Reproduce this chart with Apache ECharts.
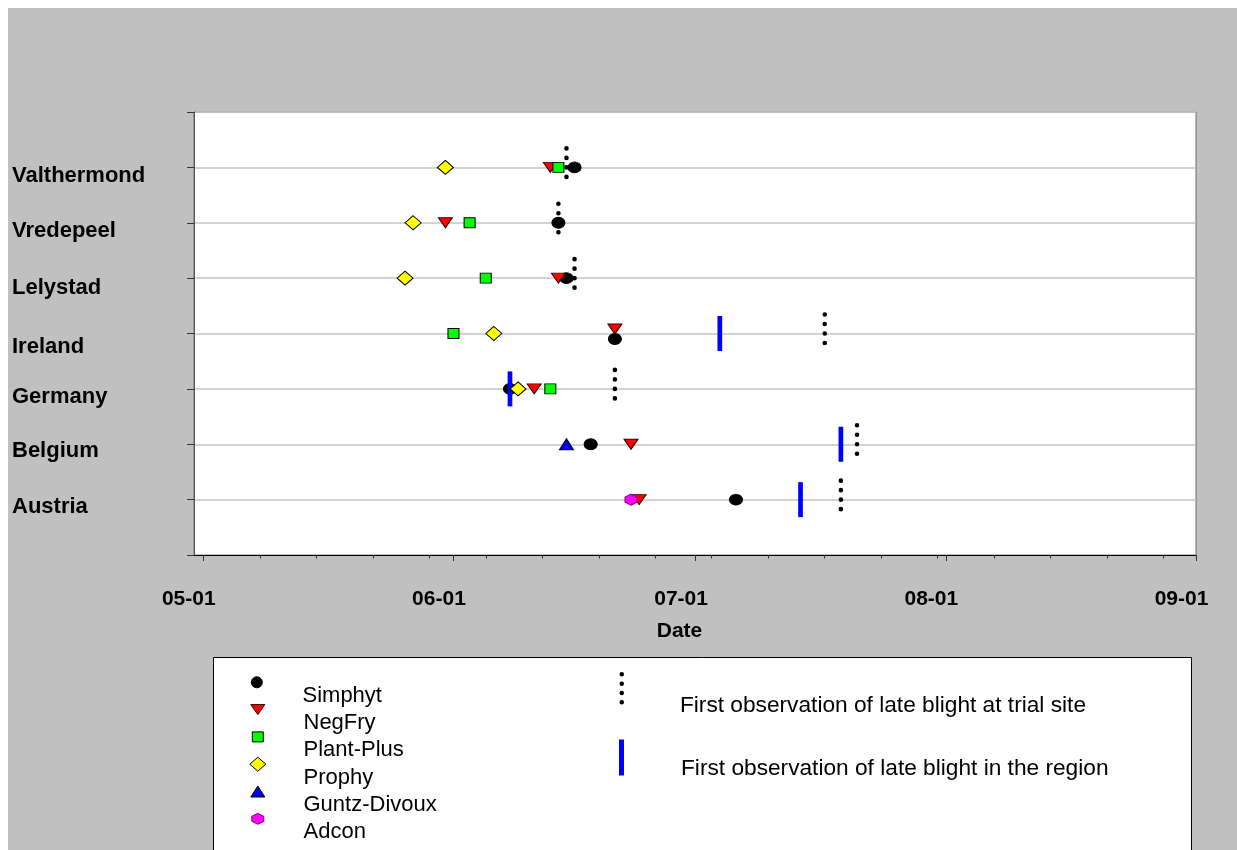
<!DOCTYPE html>
<html>
<head>
<meta charset="utf-8">
<title>First spray advice vs. first late blight observation</title>
<script src="https://cdn.jsdelivr.net/npm/echarts@6.0.0/dist/echarts.min.js"></script>
<style>
  html, body { margin: 0; padding: 0; background: #fff; }
  #chart { width: 1237px; height: 850px; }
</style>
</head>
<body>
<div id="chart"></div>
<script>
// sites, bottom (y = 1) to top (y = 7)
const sites = ['Austria', 'Belgium', 'Germany', 'Ireland', 'Lelystad', 'Vredepeel', 'Valthermond'];

// first spray advice per system (MM-DD), one entry per site, null = not tested there
const simphyt     = ['07-06', '06-18', '06-08', '06-21', '06-15', '06-14', '06-16'];
const negFry      = ['06-24', '06-23', '06-11', '06-21', '06-14', '05-31', '06-13'];
const plantPlus   = [null,    null,    '06-13', '06-01', '06-05', '06-03', '06-14'];
const prophy      = [null,    null,    '06-09', '06-06', '05-26', '05-27', '05-31'];
const guntzDivoux = [null,    '06-15', null,    null,    null,    null,    null];
const adcon       = ['06-23', null,    null,    null,    null,    null,    null];

// first observation of late blight
const trialSite = ['07-19', '07-21', '06-21', '07-17', '06-16', '06-14', '06-15'];
const region    = ['07-14', '07-19', '06-08', '07-04', null,    null,    null];

// x axis ticks, days after 05-01
const monthTicks = [0, 31, 61, 92, 123];
const weekTicks = [7, 14, 21, 28, 35, 42, 49, 56, 63, 70, 77, 84, 91, 98, 105, 112, 119];

const DAY0 = Date.UTC(2003, 4, 1);
function toDay(md) {
	const p = md.split('-');
	return (Date.UTC(2003, +p[0] - 1, +p[1]) - DAY0) / 864e5;
}
function dayLabel(v) {
	const d = new Date(DAY0 + Math.round(v) * 864e5);
	return String(d.getUTCMonth() + 1).padStart(2, '0') + '-' + String(d.getUTCDate()).padStart(2, '0');
}

const FONT = 'Liberation Sans, Arial, sans-serif';
const TRI_DOWN = 'path://M0,0 L14,0 L7,10 Z';
const HEX = 'path://M6,0 L12,3 L12,8 L6,11 L0,8 L0,3 Z';
const DOTS = 'path://M0,2.3a2.3,2.3 0 1,0 4.6,0a2.3,2.3 0 1,0 -4.6,0M0,11.8a2.3,2.3 0 1,0 4.6,0a2.3,2.3 0 1,0 -4.6,0' +
	'M0,21.3a2.3,2.3 0 1,0 4.6,0a2.3,2.3 0 1,0 -4.6,0M0,30.8a2.3,2.3 0 1,0 4.6,0a2.3,2.3 0 1,0 -4.6,0';

// coincident marks in Ireland are pushed apart a little (px)
const nudge = { 'Simphyt': { 3: 5.5 }, 'NegFry': { 3: -4.5 } };
// y label drop below its grid line (px), Austria..Valthermond
const labelDrop = [7.5, 6.5, 8.5, 13, 9.5, 7.7, 8.3];

const methods = [
	{ name: 'Simphyt', dates: simphyt, symbol: 'circle', size: [13, 11], color: '#000000', border: '#000000' },
	{ name: 'NegFry', dates: negFry, symbol: TRI_DOWN, size: [14, 10], color: '#ff0000', border: '#300000' },
	{ name: 'Plant-Plus', dates: plantPlus, symbol: 'rect', size: [11, 10], color: '#00ff00', border: '#000000' },
	{ name: 'Prophy', dates: prophy, symbol: 'diamond', size: [16, 14], color: '#ffff00', border: '#000000' },
	{ name: 'Guntz-Divoux', dates: guntzDivoux, symbol: 'triangle', size: [14, 11], color: '#0000ff', border: '#000000' },
	{ name: 'Adcon', dates: adcon, symbol: HEX, size: [12, 11], color: '#ff00ff', border: '#800080' }
];
const trialName = 'First observation of late blight at trial site';
const regionName = 'First observation of late blight in the region';

function points(dates, off) {
	const out = [];
	dates.forEach((md, i) => {
		if (!md) return;
		const item = { value: [toDay(md), i + 1] };
		if (off && off[i]) item.symbolOffset = [0, off[i]];
		out.push(item);
	});
	return out;
}

function methodSeries(m) {
	return {
		name: m.name,
		type: 'scatter',
		symbol: m.symbol,
		symbolSize: m.size,
		itemStyle: { color: m.color, borderColor: m.border, borderWidth: 1, opacity: 1 },
		emphasis: { disabled: true },
		data: points(m.dates, nudge[m.name])
	};
}

const series = [
	{
		name: trialName, type: 'scatter', symbol: DOTS, symbolSize: [4.6, 33.1], symbolOffset: [0, -4.75],
		itemStyle: { color: '#000', opacity: 1 }, emphasis: { disabled: true }, data: points(trialSite)
	},
	methodSeries(methods[0]),
	{
		name: regionName, type: 'scatter', symbol: 'rect', symbolSize: [4.7, 35],
		itemStyle: { color: '#0000ff', opacity: 1 }, emphasis: { disabled: true }, data: points(region)
	}
];
methods.slice(1).forEach(m => series.push(methodSeries(m)));

// legend: one component per entry, text sits below its marker like the original
const legends = [];
methods.forEach((m, i) => {
	const cy = 682.3 + 27.3 * i;
	const L = 26.6;
	legends.push({
		data: [{ name: m.name, icon: m.symbol, itemStyle: { color: m.color, borderColor: m.border, borderWidth: 1, opacity: 1 } }],
		left: 257.3 - m.size[0] / 2,
		top: cy - Math.max(m.size[1] / 2, L),
		padding: 0,
		itemWidth: m.size[0],
		itemHeight: m.size[1],
		selectedMode: false,
		formatter: '\n{name}',
		textStyle: { fontFamily: FONT, fontSize: 22, color: '#000', lineHeight: L, padding: [0, 0, 0, 40.7 - m.size[0] / 2] }
	});
});
legends.push({
	data: [{ name: trialName, icon: DOTS, itemStyle: { color: '#000', opacity: 1 } }],
	left: 619.5, top: 688.3 - 35.4, padding: 0, itemWidth: 4.6, itemHeight: 32.5, selectedMode: false,
	formatter: '\n{name}',
	textStyle: { fontFamily: FONT, fontSize: 22.7, color: '#000', lineHeight: 35.4, padding: [0, 0, 0, 50.9] }
});
legends.push({
	data: [{ name: regionName, icon: 'rect', itemStyle: { color: '#0000ff', opacity: 1 } }],
	left: 619, top: 757 - 22, padding: 0, itemWidth: 5, itemHeight: 36, selectedMode: false,
	formatter: '\n{name}',
	textStyle: { fontFamily: FONT, fontSize: 22.7, color: '#000', lineHeight: 22, padding: [0, 0, 0, 52] }
});

const rich = {};
labelDrop.forEach((d, i) => {
	rich['s' + (i + 1)] = { fontFamily: FONT, fontSize: 22, fontWeight: 'bold', color: '#000', padding: [2 * d, 0, 0, 0] };
});

const myChart = echarts.init(document.getElementById('chart'));
const option = {
	backgroundColor: '#ffffff',
	animation: false,
	textStyle: { fontFamily: FONT },
	graphic: {
		elements: [
			{ type: 'rect', silent: true, z: -100, shape: { x: 8, y: 8, width: 1229, height: 842 }, style: { fill: '#c0c0c0' } },
			{ type: 'rect', silent: true, z: 1, shape: { x: 213.5, y: 657.5, width: 978, height: 220 }, style: { fill: '#ffffff', stroke: '#000000', lineWidth: 1 } }
		]
	},
	legend: legends,
	grid: {
		left: 194, top: 112, width: 1002, height: 443,
		show: true, backgroundColor: '#ffffff', borderColor: '#6a6a6a', borderWidth: 1
	},
	xAxis: [{
		type: 'value', position: 'bottom',
		min: -1.15, max: 123,
		name: 'Date', nameLocation: 'middle', nameGap: 66,
		nameTextStyle: { fontFamily: FONT, fontSize: 21, fontWeight: 'bold', color: '#000', padding: [0, 31, 0, 0] },
		axisLine: { show: true, onZero: false, lineStyle: { color: '#000', width: 1 } },
		axisTick: { show: true, length: 6, customValues: monthTicks, lineStyle: { color: '#333' } },
		axisLabel: {
			customValues: monthTicks, formatter: dayLabel, margin: 34,
			fontFamily: FONT, fontSize: 21, fontWeight: 'bold', color: '#000', padding: [0, 29, 0, 0]
		},
		splitLine: { show: false }
	}, {
		type: 'value', position: 'bottom',
		min: -1.15, max: 123,
		axisLine: { show: false, onZero: false },
		axisTick: { show: true, length: 3.5, customValues: weekTicks, lineStyle: { color: '#333' } },
		axisLabel: { show: false },
		splitLine: { show: false }
	}],
	yAxis: {
		type: 'value', min: 0, max: 8, interval: 1,
		axisLine: { show: true, onZero: false, lineStyle: { color: '#555', width: 1 } },
		axisTick: { show: true, length: 7, lineStyle: { color: '#333' } },
		axisLabel: {
			align: 'left', margin: 182,
			formatter: v => (v >= 1 && v <= 7) ? '{s' + v + '|' + sites[v - 1] + '}' : '',
			rich: rich
		},
		splitLine: { show: true, lineStyle: { color: '#c4c4c4', width: 1.5 } }
	},
	series: series
};
myChart.setOption(option);
</script>
</body>
</html>
